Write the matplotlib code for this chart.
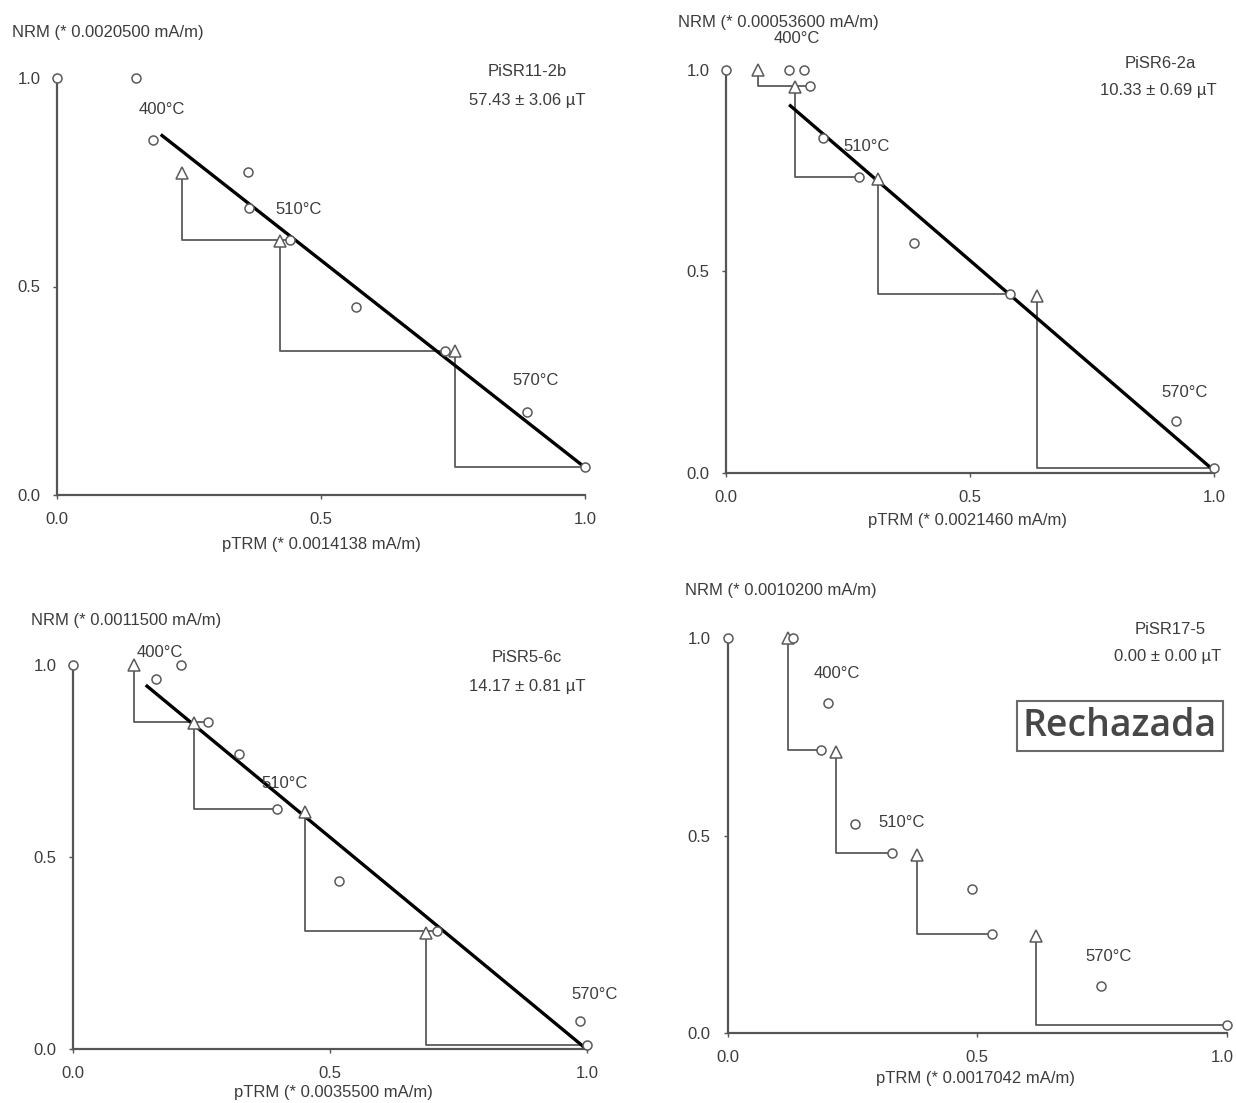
import numpy as np
import matplotlib
matplotlib.use("Agg")
import matplotlib.pyplot as plt
import matplotlib.transforms as mtransforms

plt.rcParams['font.family'] = ['Liberation Sans', 'DejaVu Sans']

W, H = 1236, 1103

## Data, one block per panel
# panel 1 - PiSR11-2b
p1_cx = [0.0, 0.15, 0.182, 0.362, 0.363, 0.442, 0.566, 0.734, 0.891, 1.0]
p1_cy = [1.0, 1.0, 0.851, 0.774, 0.689, 0.612, 0.452, 0.346, 0.198, 0.067]
p1_tx = [0.236, 0.422, 0.753]
p1_ty = [0.773, 0.609, 0.345]
p1_tto = [5, 7, 9]          # circle that each pTRM check joins
p1_fitx = [0.199, 1.0]
p1_fity = [0.862, 0.066]
p1_name = "PiSR11-2b"
p1_int = "57.43 \u00b1 3.06 \u00b5T"
p1_nrm = "NRM (* 0.0020500 mA/m)"
p1_ptrm = "pTRM (* 0.0014138 mA/m)"

# panel 2 - PiSR6-2a
p2_cx = [0.0, 0.129, 0.159, 0.173, 0.199, 0.272, 0.385, 0.581, 0.923, 1.0]
p2_cy = [1.0, 1.0, 1.0, 0.959, 0.829, 0.733, 0.571, 0.443, 0.128, 0.012]
p2_tx = [0.066, 0.141, 0.312, 0.637]
p2_ty = [1.0, 0.957, 0.729, 0.439]
p2_tto = [3, 5, 7, 9]
p2_fitx = [0.132, 0.998]
p2_fity = [0.910, 0.008]
p2_name = "PiSR6-2a"
p2_int = "10.33 \u00b1 0.69 \u00b5T"
p2_nrm = "NRM (* 0.00053600 mA/m)"
p2_ptrm = "pTRM (* 0.0021460 mA/m)"

# panel 3 - PiSR5-6c
p3_cx = [0.0, 0.21, 0.162, 0.262, 0.323, 0.396, 0.518, 0.708, 0.987, 1.0]
p3_cy = [1.0, 1.0, 0.964, 0.851, 0.769, 0.625, 0.437, 0.308, 0.074, 0.010]
p3_tx = [0.119, 0.235, 0.452, 0.687]
p3_ty = [1.0, 0.850, 0.618, 0.303]
p3_tto = [3, 5, 7, 9]
p3_fitx = [0.144, 0.996]
p3_fity = [0.945, 0.003]
p3_name = "PiSR5-6c"
p3_int = "14.17 \u00b1 0.81 \u00b5T"
p3_nrm = "NRM (* 0.0011500 mA/m)"
p3_ptrm = "pTRM (* 0.0035500 mA/m)"

# panel 4 - PiSR17-5 (no fit)
p4_cx = [0.0, 0.131, 0.202, 0.188, 0.255, 0.330, 0.490, 0.529, 0.747, 1.0]
p4_cy = [1.0, 1.0, 0.835, 0.717, 0.530, 0.455, 0.364, 0.251, 0.119, 0.020]
p4_tx = [0.121, 0.218, 0.379, 0.618]
p4_ty = [1.0, 0.712, 0.450, 0.245]
p4_tto = [3, 5, 7, 9]
p4_name = "PiSR17-5"
p4_int = "0.00 \u00b1 0.00 \u00b5T"
p4_nrm = "NRM (* 0.0010200 mA/m)"
p4_ptrm = "pTRM (* 0.0017042 mA/m)"

temps = ["400\u00b0C", "510\u00b0C", "570\u00b0C"]
ticks = [0.0, 0.5, 1.0]
tick_labels = ["0.0", "0.5", "1.0"]

TXT = "#3c3c3c"
LINE = "#5a5a5a"
FS = 12


def fx(x):
    return x / W


def fy(y):
    return 1 - y / H


def panel(fig, x0, x1, y0, y1, cx, cy, tx, ty, tto, fitx, fity, temp_pos):
    # x0,x1 pixel of pTRM 0 and 1 ; y0,y1 pixel of NRM 0 and 1
    ax = fig.add_axes([fx(x0), fy(y0), (x1 - x0) / W, (y0 - y1) / H])
    ax.set_xlim(0, 1)
    ax.set_ylim(0, 1)
    ax.patch.set_alpha(0)
    for s in ['top', 'right']:
        ax.spines[s].set_visible(False)
    for s in ['left', 'bottom']:
        ax.spines[s].set_color("#555555")
        ax.spines[s].set_linewidth(1.6)
    ax.set_xticks(ticks)
    ax.set_xticklabels(tick_labels)
    ax.set_yticks(ticks)
    ax.set_yticklabels(tick_labels)
    ax.tick_params(length=3, width=1, color="#555555", labelsize=FS,
                   labelcolor=TXT)
    ax.tick_params(axis='x', pad=9)
    ax.tick_params(axis='y', pad=9)

    # pTRM check steps
    for i in range(len(tx)):
        j = tto[i]
        ax.plot([tx[i], tx[i], cx[j]], [ty[i], cy[j], cy[j]], color=LINE,
                lw=1.3, clip_on=False, zorder=2)
    if fitx is not None:
        ax.plot(fitx, fity, color="black", lw=2.4, clip_on=False, zorder=3)
    ax.plot(tx, ty, ls='none', marker='^', ms=9, mfc='white', mec=LINE,
            mew=1.1, clip_on=False, zorder=4)
    ax.plot(cx, cy, ls='none', marker='o', ms=6.5, mfc='white', mec=LINE,
            mew=1.1, clip_on=False, zorder=5)
    for t, (px, py) in zip(temps, temp_pos):
        ax.text(px, py, t, ha='center', va='center', fontsize=FS, color=TXT,
                clip_on=False, zorder=6)
    return ax


fig = plt.figure(figsize=(W / 100, H / 100), dpi=100)

panel(fig, 57, 585, 495, 78, p1_cx, p1_cy, p1_tx, p1_ty, p1_tto,
      p1_fitx, p1_fity, [(0.198, 0.924), (0.457, 0.685), (0.906, 0.274)])
panel(fig, 726, 1214, 473, 69.5, p2_cx, p2_cy, p2_tx, p2_ty, p2_tto,
      p2_fitx, p2_fity, [(0.145, 1.076), (0.288, 0.809), (0.939, 0.200)])
panel(fig, 73, 587, 1049, 665, p3_cx, p3_cy, p3_tx, p3_ty, p3_tto,
      p3_fitx, p3_fity, [(0.169, 1.033), (0.412, 0.692), (1.015, 0.143)])
ax4 = panel(fig, 727.5, 1227, 1033, 638, p4_cx, p4_cy, p4_tx, p4_ty, p4_tto,
            None, None, [(0.218, 0.910), (0.348, 0.533), (0.763, 0.193)])

# last x tick label of panel 4 sits at the image edge: keep it inside
fig.canvas.draw()
lab = ax4.get_xticklabels()[-1]
lab.set_horizontalalignment('right')
lab.set_transform(lab.get_transform() +
                  mtransforms.ScaledTranslation(7 / 100, 0, fig.dpi_scale_trans))

# axis titles and sample info
fig.text(fx(12), fy(32), p1_nrm, ha='left', va='center', fontsize=FS, color=TXT)
fig.text(fx(321), fy(545), p1_ptrm, ha='center', va='center', fontsize=FS, color=TXT)
fig.text(fx(527), fy(72), p1_name, ha='center', va='center', fontsize=FS, color=TXT)
fig.text(fx(527), fy(101), p1_int, ha='center', va='center', fontsize=FS, color=TXT)

fig.text(fx(678), fy(22), p2_nrm, ha='left', va='center', fontsize=FS, color=TXT)
fig.text(fx(968), fy(520), p2_ptrm, ha='center', va='center', fontsize=FS, color=TXT)
fig.text(fx(1160), fy(63), p2_name, ha='center', va='center', fontsize=FS, color=TXT)
fig.text(fx(1158), fy(90), p2_int, ha='center', va='center', fontsize=FS, color=TXT)

fig.text(fx(31), fy(621), p3_nrm, ha='left', va='center', fontsize=FS, color=TXT)
fig.text(fx(333), fy(1093), p3_ptrm, ha='center', va='center', fontsize=FS, color=TXT)
fig.text(fx(527), fy(658), p3_name, ha='center', va='center', fontsize=FS, color=TXT)
fig.text(fx(527), fy(686), p3_int, ha='center', va='center', fontsize=FS, color=TXT)

fig.text(fx(685), fy(590), p4_nrm, ha='left', va='center', fontsize=FS, color=TXT)
fig.text(fx(975), fy(1079), p4_ptrm, ha='center', va='center', fontsize=FS, color=TXT)
fig.text(fx(1170), fy(630), p4_name, ha='center', va='center', fontsize=FS, color=TXT)
fig.text(fx(1168), fy(657), p4_int, ha='center', va='center', fontsize=FS, color=TXT)

fig.text(fx(1120), fy(726), "Rechazada", ha='center', va='center', fontsize=27,
         family=['Open Sans', 'DejaVu Sans'], weight='semibold', color="#474747",
         bbox=dict(boxstyle='square,pad=0.16', fc='white', ec='#6a6a6a', lw=1.5))

fig.savefig("out.png", dpi=100)
